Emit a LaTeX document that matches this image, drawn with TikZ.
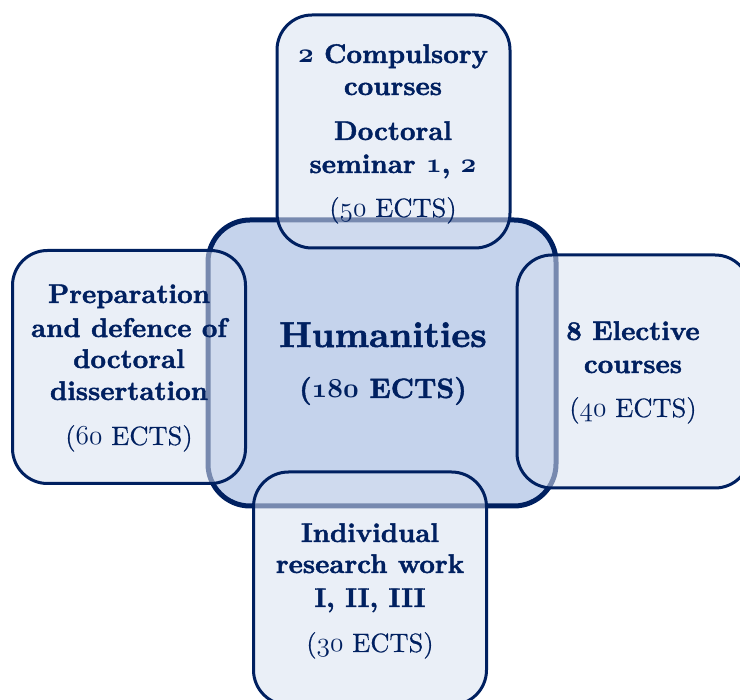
\documentclass[tikz,border=0pt]{standalone}
\usepackage{graphicx}
\usepackage{fontspec}
\usepackage{pdfrender}
\setmainfont{lmroman10-regular.otf}[
  BoldFont=lmroman10-bold.otf,
  UprightFeatures={FakeBold=0.5},
  BoldFeatures={FakeBold=1.6}]
\newcommand{\osnb}[1]{\scalebox{1.1}{\textpdfrender{TextRenderingMode=FillStroke,LineWidth=0.9pt}{{\fontencoding{OML}\fontfamily{cmm}\fontseries{b}\fontshape{it}\selectfont #1}}}}
\newcommand{\osn}[1]{\scalebox{1.1}{\textpdfrender{TextRenderingMode=FillStroke,LineWidth=0.6pt}{{\fontencoding{OML}\fontfamily{cmm}\fontseries{m}\fontshape{it}\selectfont #1}}}}
\definecolor{navy}{RGB}{0,32,96}
\definecolor{centerfill}{RGB}{197,211,236}
\definecolor{outerfill}{RGB}{217,225,240}
\tikzset{
  hub/.style={draw=navy, line width=5pt, fill=centerfill, rounded corners=42pt, inner sep=0pt},
  petal/.style={draw=navy, line width=3pt, fill=outerfill, fill opacity=0.55, rounded corners=35pt, inner sep=0pt, minimum width=233pt, minimum height=233pt},
  boldtxt/.style={text=navy, font=\fontsize{27}{30}\selectfont\bfseries, anchor=base, inner sep=0pt},
  plaintxt/.style={text=navy, font=\fontsize{26.5}{30}\selectfont, anchor=base, inner sep=0pt},
}
\begin{document}
\begin{tikzpicture}[x=1pt,y=-1pt]
\useasboundingbox (0,0) rectangle (740,700);
\clip (0,0) rectangle (740,700);
% central box
\node[hub, minimum width=348pt, minimum height=286pt] (hub) at (382,363) {};
% outer boxes
\node[petal] (top) at (393.5,131.5) {};
\node[petal] (left) at (129,367) {};
\node[petal] (right) at (633.5,371.5) {};
\node[petal] (bottom) at (370,588.5) {};
% centre text
\node[boldtxt, font=\fontsize{36}{40}\selectfont\bfseries] (h1) at (383,347) {Humanities};
\node[boldtxt, font=\fontsize{28}{32}\selectfont\bfseries] (h2) at (383,398) {(\osnb{180} ECTS)};
% top text
\node[boldtxt] (t1) at (393,63) {\osnb{2} Compulsory};
\node[boldtxt] (t2) at (393,95) {courses};
\node[boldtxt] (t3) at (393,140) {Doctoral};
\node[boldtxt] (t4) at (393,173) {seminar \osnb{1}, \osnb{2}};
\node[plaintxt] (t5) at (393,217) {(\osn{50} ECTS)};
% left text
\node[boldtxt] (l1) at (129,303) {Preparation};
\node[boldtxt] (l2) at (129,337) {and defence of};
\node[boldtxt] (l3) at (129,368) {doctoral};
\node[boldtxt] (l4) at (129,400) {dissertation};
\node[plaintxt] (l5) at (129,445) {(\osn{60} ECTS)};
% right text
\node[boldtxt] (r1) at (633,340) {8 Elective};
\node[boldtxt] (r2) at (633,373) {courses};
\node[plaintxt] (r3) at (633,417) {(\osn{40} ECTS)};
% bottom text
\node[boldtxt] (b1) at (370,542) {Individual};
\node[boldtxt] (b2) at (370,573) {research work};
\node[boldtxt] (b3) at (370,607) {I, II, III};
\node[plaintxt] (b4) at (370,652) {(\osn{30} ECTS)};
\end{tikzpicture}
\end{document}
